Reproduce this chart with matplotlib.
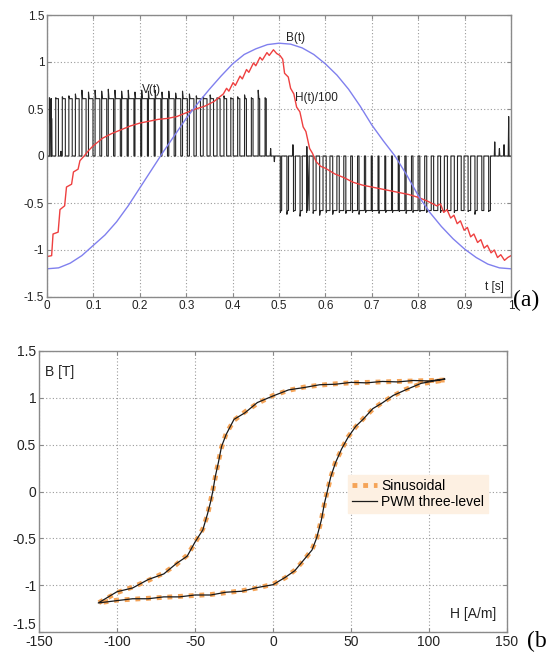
import numpy as np
import matplotlib
matplotlib.use("Agg")
import matplotlib.pyplot as plt
from matplotlib.lines import Line2D

# ---- (a) time traces ----
t_b = np.arange(41) * 0.025
b_t = [-1.20, -1.19, -1.14, -1.06, -0.95, -0.84, -0.70, -0.53, -0.34, -0.15,
       0.04, 0.22, 0.40, 0.56, 0.71, 0.85, 0.98, 1.08, 1.14, 1.185,
       1.20, 1.19, 1.15, 1.08, 0.98, 0.86, 0.71, 0.53, 0.33, 0.16,
       0.00, -0.20, -0.42, -0.60, -0.75, -0.88, -0.99, -1.08, -1.15, -1.19, -1.20]

t_h = [0.000, 0.010, 0.013, 0.024, 0.028, 0.038, 0.042, 0.053, 0.057, 0.067,
       0.071, 0.080, 0.090, 0.100, 0.120, 0.140, 0.160, 0.180, 0.200, 0.220,
       0.240, 0.260, 0.280, 0.300, 0.320, 0.340, 0.360, 0.370, 0.380, 0.387,
       0.392, 0.401, 0.406, 0.416, 0.421, 0.430, 0.435, 0.445, 0.450, 0.459,
       0.464, 0.474, 0.479, 0.488, 0.495, 0.502, 0.508, 0.512, 0.520, 0.525,
       0.532, 0.538, 0.545, 0.552, 0.558, 0.566, 0.572, 0.580, 0.590, 0.600,
       0.620, 0.640, 0.660, 0.680, 0.700, 0.720, 0.740, 0.760, 0.780, 0.800,
       0.820, 0.840, 0.848, 0.855, 0.862, 0.870, 0.877, 0.884, 0.891, 0.899,
       0.906, 0.913, 0.920, 0.928, 0.935, 0.942, 0.949, 0.957, 0.964, 0.971,
       0.978, 0.986, 0.993, 1.000]
h_t = [-1.07, -1.06, -0.83, -0.81, -0.57, -0.53, -0.33, -0.30, -0.17, -0.14,
       -0.05, 0.00, 0.06, 0.11, 0.19, 0.24, 0.28, 0.32, 0.35, 0.37,
       0.39, 0.40, 0.42, 0.46, 0.50, 0.53, 0.58, 0.62, 0.66, 0.72,
       0.69, 0.78, 0.75, 0.85, 0.82, 0.92, 0.89, 0.99, 0.96, 1.05,
       1.02, 1.10, 1.07, 1.13, 1.09, 1.07, 1.03, 0.88, 0.84, 0.72,
       0.66, 0.52, 0.47, 0.31, 0.26, 0.08, 0.03, -0.06, -0.11, -0.13,
       -0.19, -0.23, -0.28, -0.31, -0.33, -0.35, -0.37, -0.39, -0.41, -0.44,
       -0.48, -0.53, -0.51, -0.60, -0.57, -0.66, -0.63, -0.72, -0.69, -0.79,
       -0.76, -0.86, -0.83, -0.92, -0.89, -0.98, -0.95, -1.03, -1.00, -1.08,
       -1.05, -1.11, -1.08, -1.06]

pulse_period = 0.0145
pos_start, neg_start = 0.000, 0.497
pos_level, neg_level = 0.61, -0.58
pos_duty = [0.30, 0.40, 0.45, 0.50, 0.56, 0.62, 0.67, 0.71, 0.75, 0.78, 0.80,
            0.82, 0.84, 0.85, 0.85, 0.85, 0.84, 0.82, 0.80, 0.76, 0.72, 0.67,
            0.62, 0.56, 0.50, 0.45, 0.40, 0.36, 0.32, 0.28, 0.25, 0.22, 0.18]
pos_peak = [0.62, 0.62, 0.63, 0.64, 0.66, 0.70, 0.68, 0.70, 0.69, 0.71, 0.70,
            0.69, 0.70, 0.68, 0.70, 0.69, 0.70, 0.68, 0.69, 0.67, 0.69, 0.66,
            0.64, 0.63, 0.65, 0.62, 0.64, 0.62, 0.63, 0.65, 0.62, 0.70, 0.62]
neg_duty = [0.20, 0.24, 0.28, 0.33, 0.38, 0.44, 0.50, 0.56, 0.62, 0.67, 0.72,
            0.76, 0.80, 0.83, 0.85, 0.86, 0.86, 0.85, 0.83, 0.80, 0.76, 0.72,
            0.67, 0.62, 0.57, 0.52, 0.47, 0.42, 0.38, 0.34, 0.30, 0.26]
neg_dip = [-0.60, -0.62, -0.59, -0.64, -0.60, -0.61, -0.63, -0.60, -0.62, -0.60, -0.61,
           -0.60, -0.62, -0.60, -0.59, -0.61, -0.60, -0.60, -0.59, -0.61, -0.60, -0.59,
           -0.60, -0.58, -0.60, -0.59, -0.60, -0.58, -0.59, -0.62, -0.58, -0.59]
spike_t = [0.010, 0.030, 0.482, 0.490, 0.530, 0.560, 0.965, 0.975, 0.985, 0.995]
spike_v = [0.40, 0.05, 0.08, -0.06, 0.12, 0.10, 0.15, 0.08, 0.12, 0.42]

# ---- (b) B-H loop ----
h_up = [110, 100, 90, 80, 70, 60, 50, 40, 30, 20, 10, 0, -10, -18, -25, -30,
        -33, -35, -37, -38.5, -40, -42, -45, -50, -55, -62, -70, -80, -90, -100, -112]
b_up = [1.19, 1.185, 1.18, 1.175, 1.17, 1.165, 1.16, 1.15, 1.135, 1.115, 1.08, 1.025,
        0.94, 0.85, 0.76, 0.62, 0.47, 0.32, 0.15, 0.02, -0.10, -0.25, -0.40, -0.55,
        -0.68, -0.78, -0.87, -0.95, -1.02, -1.08, -1.19]
h_lo = [-112, -100, -90, -80, -70, -60, -50, -40, -30, -20, -10, 0, 8, 14, 20, 25,
        28, 31, 33, 35, 37, 40, 44, 48, 53, 58, 64, 70, 77, 85, 95, 110]
b_lo = [-1.19, -1.16, -1.15, -1.14, -1.13, -1.12, -1.11, -1.10, -1.08, -1.06, -1.03,
        -0.99, -0.92, -0.84, -0.73, -0.62, -0.50, -0.30, -0.13, 0.02, 0.15, 0.31,
        0.45, 0.58, 0.69, 0.78, 0.88, 0.95, 1.02, 1.09, 1.15, 1.19]
b_up_pwm = [1.20, 1.18, 1.185, 1.17, 1.175, 1.16, 1.165, 1.145, 1.14, 1.11, 1.085, 1.02,
            0.95, 0.84, 0.77, 0.61, 0.48, 0.31, 0.16, 0.01, -0.11, -0.24, -0.41, -0.54,
            -0.69, -0.77, -0.88, -0.94, -1.03, -1.07, -1.19]
b_lo_pwm = [-1.19, -1.165, -1.145, -1.145, -1.125, -1.125, -1.105, -1.105, -1.075, -1.065,
            -1.025, -0.995, -0.915, -0.845, -0.725, -0.625, -0.495, -0.305, -0.125, 0.015,
            0.155, 0.305, 0.455, 0.575, 0.695, 0.775, 0.885, 0.945, 1.025, 1.085, 1.155, 1.20]


def pwm_trace(t0, period, duty, level, peak):
    ts, vs = [], []
    for i, (d, p) in enumerate(zip(duty, peak)):
        a = t0 + i * period + (1 - d) * period / 2
        b = a + d * period
        ts += [a, a, a + 0.0015, b, b]
        vs += [0.0, p, level, level, 0.0]
    return ts, vs


pt, pv = pwm_trace(pos_start, pulse_period, pos_duty, pos_level, pos_peak)
nt, nv = pwm_trace(neg_start, pulse_period, neg_duty, neg_level, neg_dip)
st, sv = [], []
for s, v in zip(spike_t, spike_v):
    st += [s - 0.001, s, s + 0.001]
    sv += [0.0, v, 0.0]
v_t = np.array([0.0] + pt + nt + st + [1.0])
v_v = np.array([0.0] + pv + nv + sv + [0.0])
order = np.argsort(v_t, kind="stable")
v_t, v_v = v_t[order], v_v[order]

plt.rcParams["font.family"] = ["Liberation Sans", "DejaVu Sans"]
plt.rcParams["axes.unicode_minus"] = False
fig = plt.figure(figsize=(5.49, 6.52), dpi=100)
W, H = 549, 652
ax1 = fig.add_axes([47 / W, 1 - 297 / H, 464 / W, 282 / H])
ax2 = fig.add_axes([39 / W, 1 - 632 / H, 468 / W, 281 / H])

frame = "#8a8a8a"
for ax in (ax1, ax2):
    ax.grid(True, color="#9a9a9a", linestyle=(0, (1, 2)), linewidth=0.8)
    ax.set_axisbelow(True)
    for sp in ax.spines.values():
        sp.set_color(frame)
        sp.set_linewidth(1.0)
    ax.tick_params(direction="in", length=3, color=frame, top=True, right=True,
                   labelcolor="#222222", pad=2)

ax1.plot(v_t, v_v, color="#262626", lw=0.8)
ax1.plot(t_h, h_t, color="#ee4040", lw=1.0)
ax1.plot(t_b, b_t, color="#8080ee", lw=1.0)
ax1.set_xlim(0, 1)
ax1.set_ylim(-1.5, 1.5)
ax1.set_xticks(np.arange(11) * 0.1)
ax1.set_xticklabels(["0", "0.1", "0.2", "0.3", "0.4", "0.5", "0.6", "0.7", "0.8", "0.9", "1"])
ax1.set_yticks([-1.5, -1, -0.5, 0, 0.5, 1, 1.5])
ax1.set_yticklabels(["-1.5", "-1", "-0.5", "0", "0.5", "1", "1.5"])
ax1.tick_params(labelsize=8.5)
ax1.text(0.226, 0.70, "V(t)", fontsize=8.5, ha="center", va="center", color="#222222")
ax1.text(0.535, 1.255, "B(t)", fontsize=8.5, ha="center", va="center", color="#222222")
ax1.text(0.534, 0.62, "H(t)/100", fontsize=8.5, ha="left", va="center", color="#222222")
ax1.text(0.985, -1.39, "t [s]", fontsize=8.5, ha="right", va="center", color="#222222")

ax2.plot(h_up + h_lo, b_up + b_lo, color="#f5a458", lw=3.5,
         linestyle=(0, (1, 1.2)), solid_capstyle="butt", label="Sinusoidal")
ax2.plot(h_up + h_lo, b_up_pwm + b_lo_pwm, color="#1a1a1a", lw=0.9,
         label="PWM three-level")
ax2.set_xlim(-150, 150)
ax2.set_ylim(-1.5, 1.5)
ax2.set_xticks([-150, -100, -50, 0, 50, 100, 150])
ax2.set_yticks([-1.5, -1, -0.5, 0, 0.5, 1, 1.5])
ylabels = ax2.set_yticklabels(["-1.5", "-1", "-0.5", "0", "0.5", "1", "1.5"])
ylabels[0].set_va("bottom")
ax2.tick_params(labelsize=10)
ax2.text(-146, 1.28, "B [T]", fontsize=10, ha="left", va="center", color="#222222")
ax2.text(143, -1.31, "H [A/m]", fontsize=10, ha="right", va="center", color="#222222")
handles = [Line2D([], [], color="#f5a458", lw=3.5, linestyle=(0, (1, 1.2))),
           Line2D([], [], color="#1a1a1a", lw=0.9)]
leg = ax2.legend(handles, ["Sinusoidal", "PWM three-level"], loc="upper left",
                 bbox_to_anchor=(0.645, 0.585), fontsize=10, handlelength=1.8,
                 handletextpad=0.3, borderpad=0.3, labelspacing=0.15,
                 frameon=True, fancybox=False)
leg.get_frame().set_facecolor("#fdf0e2")
leg.get_frame().set_edgecolor("#fdf0e2")
leg.get_frame().set_alpha(1.0)

fig.text(513 / W, 1 - 300 / H, "(a)", fontsize=17, family="Liberation Serif",
         ha="left", va="center")
fig.text(527 / W, 1 - 641 / H, "(b", fontsize=17, family="Liberation Serif",
         ha="left", va="center")

fig.savefig("out.png", dpi=100)
